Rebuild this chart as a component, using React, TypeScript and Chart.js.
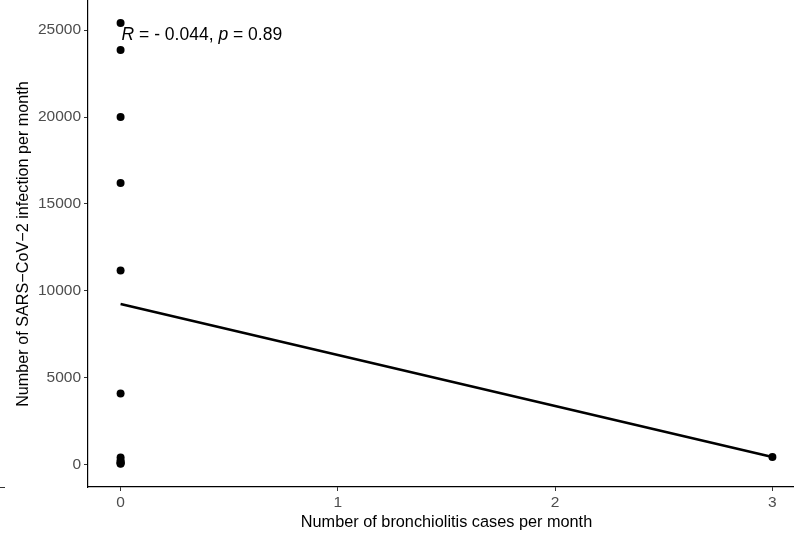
import React, { useEffect, useRef } from "react";
import { Chart, registerables } from "chart.js";

Chart.register(...registerables);

const bronchiolitisCases = [0, 0, 0, 0, 0, 0, 0, 0, 0, 0, 0, 3];
const sarsCov2Infections = [25400, 23850, 20000, 16200, 11180, 4100, 420, 260, 150, 100, 70, 460];
const regressionX = [0, 3];
const regressionY = [9250, 460];
const xTicks = [0, 1, 2, 3];
const yTicks = [0, 5000, 10000, 15000, 20000, 25000];
const corLabel = { x: 0, y: 24700, r: "0.044", p: "0.89" };

const FONT = "'Liberation Sans', Arial, sans-serif";

const annotationPlugin = {
  id: "corAnnotation",
  afterDatasetsDraw(chart: any) {
    const ctx = chart.ctx;
    const xs = chart.scales.x;
    const ys = chart.scales.y;
    const px = xs.getPixelForValue(corLabel.x) + 1;
    const py = ys.getPixelForValue(corLabel.y);
    ctx.save();
    ctx.fillStyle = "#000";
    ctx.textBaseline = "middle";
    ctx.textAlign = "left";
    const parts: [string, boolean][] = [
      ["R", true],
      [" = - " + corLabel.r + ", ", false],
      ["p", true],
      [" = " + corLabel.p, false],
    ];
    let cx = px;
    for (const [t, it] of parts) {
      ctx.font = (it ? "italic " : "") + "17.5px " + FONT;
      ctx.fillText(t, cx, py);
      cx += ctx.measureText(t).width;
    }
    // small stray tick at the far left edge
    ctx.strokeStyle = "#333";
    ctx.lineWidth = 1;
    ctx.beginPath();
    ctx.moveTo(0, chart.chartArea.bottom + 0.5);
    ctx.lineTo(5, chart.chartArea.bottom + 0.5);
    ctx.stroke();
    ctx.restore();
  },
};

export default function App() {
  const ref = useRef<HTMLCanvasElement>(null);
  useEffect(() => {
    if (!ref.current) return;
    const chart = new Chart(ref.current, {
      type: "scatter",
      data: {
        datasets: [
          {
            type: "line",
            data: regressionX.map((x, i) => ({ x, y: regressionY[i] })),
            borderColor: "#000",
            borderWidth: 2.6,
            pointRadius: 0,
            fill: false,
          } as any,
          {
            data: bronchiolitisCases.map((x, i) => ({ x, y: sarsCov2Infections[i] })),
            backgroundColor: "#000",
            borderColor: "#000",
            pointRadius: 4,
            borderWidth: 0,
          },
        ],
      },
      options: {
        animation: false,
        responsive: false,
        maintainAspectRatio: false,
        layout: { padding: 0 },
        plugins: { legend: { display: false }, tooltip: { enabled: false } },
        scales: {
          x: {
            type: "linear",
            min: -0.15,
            max: 3.15,
            afterBuildTicks: (s: any) => {
              s.ticks = xTicks.map((v) => ({ value: v }));
            },
            afterFit: (s: any) => {
              s.height = 47;
              s.paddingLeft = 0;
              s.paddingRight = 0;
            },
            grid: { drawOnChartArea: false, tickLength: 4, tickColor: "#333", tickWidth: 1 },
            border: { color: "#000", width: 1.2 },
            ticks: { color: "#4D4D4D", font: { family: FONT, size: 15.5 }, padding: 2, maxRotation: 0 },
            title: {
              display: true,
              text: "Number of bronchiolitis cases per month",
              color: "#000",
              font: { family: FONT, size: 16.3 },
              padding: { top: 0, bottom: 2 },
            },
          },
          y: {
            type: "linear",
            min: -1270,
            max: 26670,
            afterBuildTicks: (s: any) => {
              s.ticks = yTicks.map((v) => ({ value: v }));
            },
            afterFit: (s: any) => {
              s.width = 88;
              s.paddingTop = 0;
              s.paddingBottom = 0;
            },
            grid: { drawOnChartArea: false, tickLength: 4, tickColor: "#333", tickWidth: 1 },
            border: { color: "#000", width: 1.2 },
            ticks: {
              color: "#4D4D4D",
              font: { family: FONT, size: 15.5 },
              padding: 3,
              callback: (v: any) => String(v),
            },
            title: {
              display: true,
              text: "Number of SARS\u2212CoV\u22122 infection per month",
              color: "#000",
              font: { family: FONT, size: 16.2 },
              padding: { top: 14, bottom: 0 },
            },
          },
        },
      },
      plugins: [annotationPlugin],
    });
    return () => chart.destroy();
  }, []);
  return (
    <div style={{ position: "fixed", left: 0, top: 0, width: 794, height: 534, overflow: "hidden", background: "#fff" }}>
      <canvas
        ref={ref}
        width={809}
        height={537}
        style={{ display: "block", width: 809, height: 537, marginTop: -3 }}
      />
    </div>
  );
}
